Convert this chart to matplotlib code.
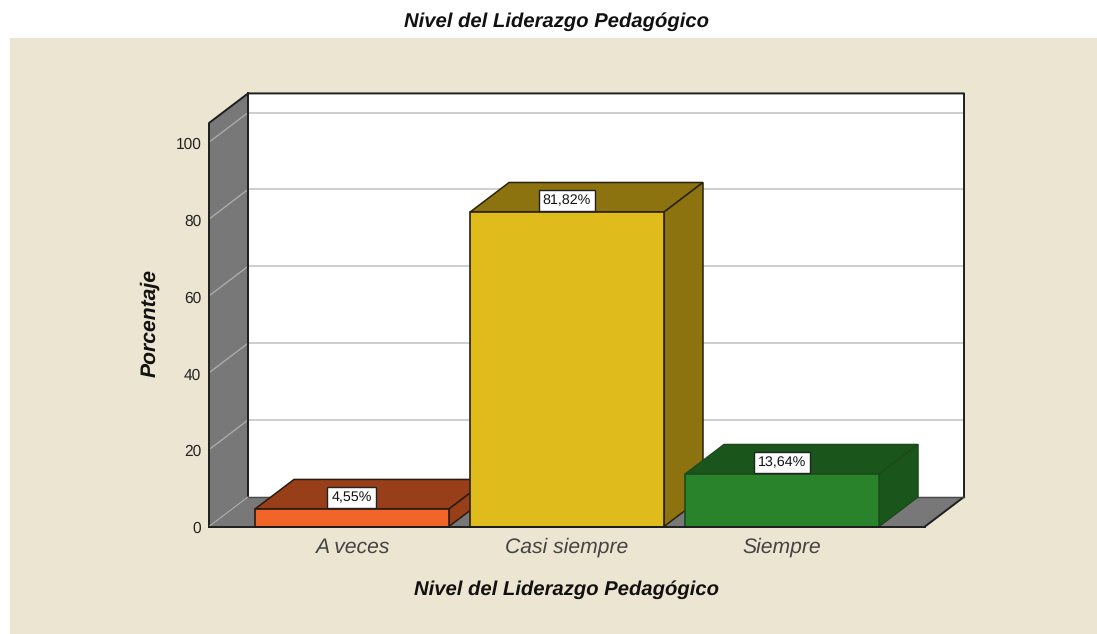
import matplotlib
matplotlib.use("Agg")
import matplotlib.pyplot as plt
from matplotlib.patches import Polygon, Rectangle
from matplotlib.transforms import ScaledTranslation

plt.rcParams['font.family'] = ['Liberation Sans', 'DejaVu Sans']
plt.rcParams['text.hinting'] = 'no_hinting'

# values
categories = ['A veces', 'Casi siempre', 'Siempre']
percentages = [4.55, 81.82, 13.64]
labels = ['4,55%', '81,82%', '13,64%']
yticks = [0, 20, 40, 60, 80, 100]
chart_title = 'Nivel del Liderazgo Pedagógico'
y_title = 'Porcentaje'

front_colors = ['#F26529', '#E0BB1C', '#28832A']
top_colors = ['#983F19', '#8C7310', '#1A561B']
side_colors = ['#983F19', '#8C7310', '#1A561B']
edge_colors = ['#2A1A10', '#2A2208', '#1C4A1C']

W, H = 1097, 634
fig = plt.figure(figsize=(W / 100, H / 100), dpi=100, facecolor='white')

# beige panel behind the chart
fig.add_artist(Rectangle((10 / W, 0), (W - 10) / W, (H - 38) / H, transform=fig.transFigure,
                         facecolor='#ECE5D1', edgecolor='none', zorder=-1))

# axes = front plane of the 3D box
left, right, bottom, top = 209, 925, 526.5, 123
ax = fig.add_axes([left / W, 1 - bottom / H, (right - left) / W, (bottom - top) / H])
ax.patch.set_visible(False)
ax.set_xlim(-0.665, 2.665)
ax.set_ylim(0, 105)
for s in ax.spines.values():
    s.set_visible(False)

dx = 0.1815   # depth offset in x units
dy = 7.7      # depth offset in percent units
x0, x1 = ax.get_xlim()
ymax = ax.get_ylim()[1]
dark = '#1E1E1E'


def poly(pts, fc, ec='none', lw=1.2, z=2):
    ax.add_patch(Polygon(pts, closed=True, facecolor=fc, edgecolor=ec, linewidth=lw,
                         zorder=z, clip_on=False, joinstyle='miter'))


def edge(xs, ys, color=dark, lw=1.4, z=1.8):
    ax.plot(xs, ys, color=color, lw=lw, zorder=z, clip_on=False, solid_capstyle='projecting')


# walls and floor
poly([(x0 + dx, dy), (x1 + dx, dy), (x1 + dx, ymax + dy), (x0 + dx, ymax + dy)], 'white', z=1)
poly([(x0, 0), (x0 + dx, dy), (x0 + dx, ymax + dy), (x0, ymax)], '#787878', z=1)
poly([(x0, 0), (x1, 0), (x1 + dx, dy), (x0 + dx, dy)], '#787878', z=1)

# gridlines on both walls
for t in yticks[1:]:
    ax.plot([x0 + dx, x1 + dx - 0.004], [t + dy, t + dy], color='#CACACA', lw=1.3, zorder=1.5, clip_on=False)
    ax.plot([x0, x0 + dx], [t, t + dy], color='#ABABAB', lw=1.0, zorder=1.5, clip_on=False)

# box outline
edge([x0, x0, x0 + dx, x1 + dx, x1 + dx, x1], [0, ymax, ymax + dy, ymax + dy, dy, 0])
edge([x0 + dx, x0 + dx], [dy, ymax + dy])
edge([x0 + dx, x1 + dx], [dy, dy], color='#4A4A4A', lw=1.0)
edge([x0, x0 + dx], [0, dy], color='#B0B0B0', lw=0.7)

# bars
width = 0.902
for i, v in enumerate(percentages):
    a, b = i - width / 2, i + width / 2
    z = 3 + i
    poly([(a, v), (a + dx, v + dy), (b + dx, v + dy), (b, v)], top_colors[i], ec=edge_colors[i], lw=1.1, z=z)
    poly([(b, 0), (b + dx, dy), (b + dx, v + dy), (b, v)], side_colors[i], ec=edge_colors[i], lw=1.1, z=z)
    poly([(a, 0), (b, 0), (b, v), (a, v)], front_colors[i], ec=edge_colors[i], lw=1.2, z=z)
    ax.text(i, v + 3.0, labels[i], ha='center', va='center', fontsize=10.3, color='#111111', zorder=10,
            bbox=dict(boxstyle='square,pad=0.3', facecolor='white', edgecolor='#222222', linewidth=1))

# front bottom edge on top of everything
edge([x0, x1], [0, 0], lw=1.4, z=9)

ax.set_xticks(range(len(categories)))
ax.set_xticklabels(categories, fontsize=15.2, style='italic', color='#444444')
ax.set_yticks(yticks)
ax.set_yticklabels([str(t) for t in yticks], fontsize=11.2, color='#222222')
ax.tick_params(axis='x', length=0, pad=8)
ax.tick_params(axis='y', length=0, pad=5.5)
for lab in ax.get_yticklabels():
    lab.set_transform(lab.get_transform() + ScaledTranslation(0, -0.6 / 72, fig.dpi_scale_trans))

ax.set_ylabel(y_title, fontsize=15.2, fontweight='bold', style='italic', color='#111111', labelpad=0)
ax.yaxis.set_label_coords((149.5 - left) / (right - left), (bottom - 322.5) / (bottom - top))
ax.yaxis.label.set_verticalalignment('center')
ax.set_xlabel(chart_title, fontsize=14.6, fontweight='bold', style='italic', color='#111111')
ax.xaxis.set_label_coords((567 - left) / (right - left), -(590 - bottom) / (bottom - top))
ax.xaxis.label.set_verticalalignment('center')

fig.text(557 / W, 1 - 21.5 / H, chart_title, ha='center', va='center', fontsize=14.6, fontweight='bold',
         style='italic', color='#111111')

fig.savefig('out.png', dpi=100, facecolor='white')
